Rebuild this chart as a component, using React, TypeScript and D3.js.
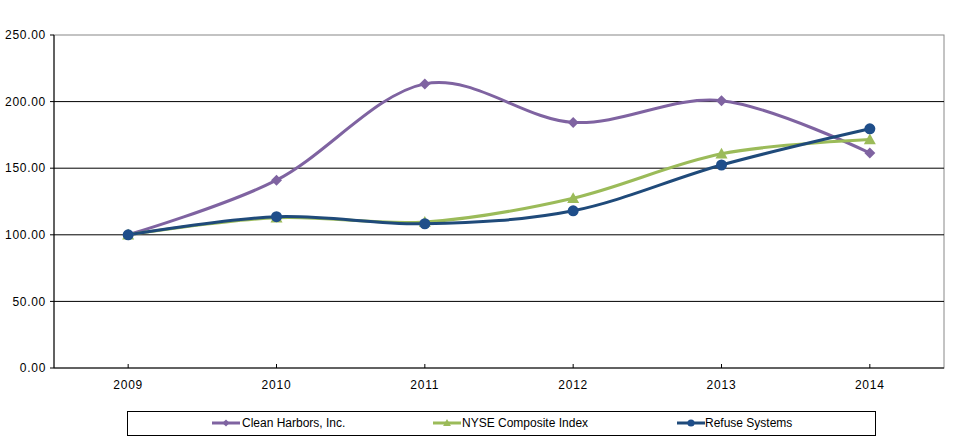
import React from "react";
import * as d3 from "d3";

const years = ["2009", "2010", "2011", "2012", "2013", "2014"];
const cleanHarbors = [100, 141, 213.3, 184.4, 200.7, 161.4];
const nyse = [100, 112.8, 109.6, 127.5, 160.8, 171.5];
const refuse = [100, 113.6, 108.3, 118.0, 152.4, 179.6];
const yTicks = [0, 50, 100, 150, 200, 250];

const W = 954;
const H = 440;
const left = 54;
const right = 944;
const top = 35;
const bottom = 368;

const font = "'Liberation Sans', Arial, sans-serif";

const series = [
  { name: "Clean Harbors, Inc.", values: cleanHarbors, color: "#7f63a1", marker: "diamond", mcolor: "#7f63a1" },
  { name: "NYSE Composite Index", values: nyse, color: "#9bbb59", marker: "triangle", mcolor: "#9bbb59" },
  { name: "Refuse Systems", values: refuse, color: "#1f4a7a", marker: "circle", mcolor: "#1f4e8a" },
];

function Marker({ type, x, y, color, k = 1 }: { type: string; x: number; y: number; color: string; k?: number }) {
  if (type === "diamond") {
    const s = 5.5 * k;
    return <path d={`M${x},${y - s}L${x + s},${y}L${x},${y + s}L${x - s},${y}Z`} fill={color} />;
  }
  if (type === "triangle") {
    const s = 6 * k;
    return <path d={`M${x},${y - s}L${x + s},${y + s * 0.8}L${x - s},${y + s * 0.8}Z`} fill={color} />;
  }
  return <circle cx={x} cy={y} r={5.5 * k} fill={color} />;
}

export default function App() {
  const x = d3.scaleBand<string>().domain(years).range([left, right]);
  const xc = (d: string) => (x(d) as number) + x.bandwidth() / 2;
  const y = d3.scaleLinear().domain([0, 250]).range([bottom, top]);
  const line = d3
    .line<number>()
    .x((_, i) => xc(years[i]))
    .y((v) => y(v))
    .curve(d3.curveCardinal.tension(0));

  const legendItems = [
    { x: 212, tx: 242 },
    { x: 433, tx: 462 },
    { x: 677, tx: 705 },
  ];

  return (
    <svg width={W} height={H} style={{ display: "block", position: "absolute", left: 0, top: 0 }}>
      <rect x={0} y={0} width={W} height={H} fill="#fff" />
      <rect x={left} y={top} width={right - left} height={bottom - top} fill="none" stroke="#888" strokeWidth={1} />
      {yTicks.map((t) => (
        <g key={t}>
          {t > 0 && t < 250 && (
            <line x1={left} x2={right} y1={y(t)} y2={y(t)} stroke="#000" strokeWidth={1} />
          )}
          <line x1={left - 4} x2={left} y1={y(t)} y2={y(t)} stroke="#000" />
          <text x={46} y={y(t)} dy="0.35em" textAnchor="end" fontFamily={font} fontSize={12} letterSpacing={0.7} fill="#000">
            {t.toFixed(2)}
          </text>
        </g>
      ))}
      <line x1={left} x2={left} y1={top} y2={bottom} stroke="#000" />
      <line x1={left} x2={right} y1={bottom} y2={bottom} stroke="#000" />
      {years.map((yr) => (
        <g key={yr}>
          <line x1={xc(yr)} x2={xc(yr)} y1={bottom - 4} y2={bottom} stroke="#000" />
          <text x={xc(yr)} y={385} dy="0.35em" textAnchor="middle" fontFamily={font} fontSize={12} letterSpacing={0.8} fill="#000">
            {yr}
          </text>
        </g>
      ))}
      {series.map((s) => (
        <path key={s.name} d={line(s.values) || ""} fill="none" stroke={s.color} strokeWidth={3} />
      ))}
      {series.map((s) => (
        <g key={s.name + "m"}>
          {s.values.map((v, i) => (
            <Marker key={i} type={s.marker} x={xc(years[i])} y={y(v)} color={s.mcolor} />
          ))}
        </g>
      ))}
      <rect x={127.5} y={411.5} width={748} height={24} fill="#fff" stroke="#000" strokeWidth={1} />
      {series.map((s, i) => {
        const li = legendItems[i];
        return (
          <g key={s.name + "l"}>
            <line x1={li.x} x2={li.x + 28} y1={423} y2={423} stroke={s.color} strokeWidth={3} />
            <Marker type={s.marker} x={li.x + 14} y={423} color={s.mcolor} k={0.65} />
            <text x={li.tx} y={423} dy="0.35em" fontFamily={font} fontSize={12} fill="#000">
              {s.name}
            </text>
          </g>
        );
      })}
    </svg>
  );
}
